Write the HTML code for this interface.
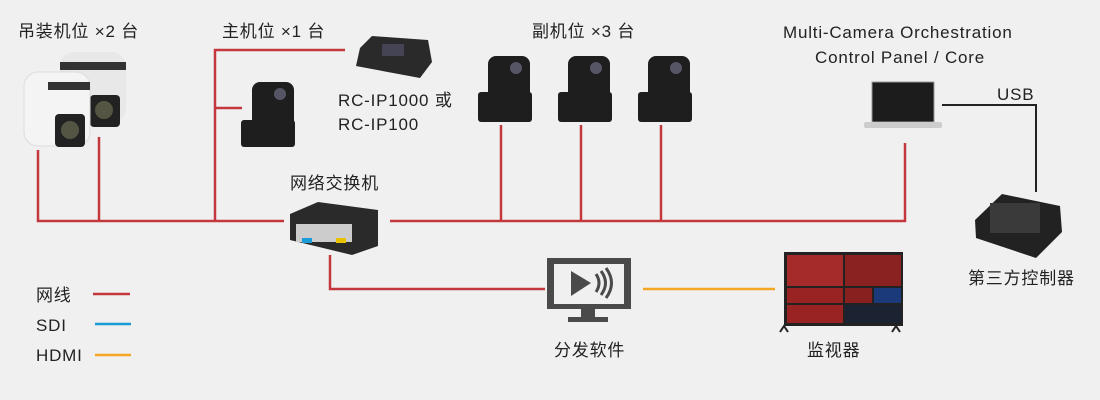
<!DOCTYPE html>
<html><head><meta charset="utf-8"><style>
body{margin:0;width:1100px;height:400px;background:#f0f0f0;font-family:"Liberation Sans","Noto Sans CJK SC",sans-serif;color:#222;position:relative;overflow:hidden}
.t{position:absolute;font-size:17px;letter-spacing:0.8px;white-space:nowrap;line-height:1}
</style></head><body>
<svg width="1100" height="400" style="position:absolute;left:0;top:0">
<g stroke="#c4373c" stroke-width="2.5" fill="none">
<path d="M38 150V221H284M99 137V221M215 221V50H345M215 108H242M390 221H905V143M501 125V221M581 125V221M661 125V221M330 255V289H545"/>
<path d="M93 294H130"/>
</g>
<path d="M95 324H131" stroke="#1a9ad6" stroke-width="2.5"/>
<path d="M95 355H131" stroke="#f5a623" stroke-width="2.5"/>
<path d="M643 289H775" stroke="#f5a623" stroke-width="2.5"/>
<path d="M942 105H1036V192" stroke="#222" stroke-width="2" fill="none"/>
<g>
<rect x="60" y="52" width="66" height="70" rx="14" fill="#e8e8e8"/>
<rect x="60" y="62" width="66" height="8" fill="#333"/>
<rect x="90" y="95" width="30" height="32" rx="4" fill="#222"/>
<rect x="24" y="72" width="66" height="74" rx="14" fill="#f4f4f4" stroke="#ddd"/>
<rect x="48" y="82" width="42" height="8" fill="#333"/>
<rect x="55" y="114" width="30" height="33" rx="4" fill="#222"/>
<circle cx="70" cy="130" r="9" fill="#554"/>
<circle cx="104" cy="110" r="9" fill="#554"/>
</g>
<g fill="#1e1e1e">
<rect x="252" y="82" width="42" height="50" rx="8"/><rect x="241" y="120" width="54" height="27" rx="3"/>
<rect x="488" y="56" width="42" height="50" rx="8"/><rect x="478" y="92" width="54" height="30" rx="3"/>
<rect x="568" y="56" width="42" height="50" rx="8"/><rect x="558" y="92" width="54" height="30" rx="3"/>
<rect x="648" y="56" width="42" height="50" rx="8"/><rect x="638" y="92" width="54" height="30" rx="3"/>
</g>
<g fill="#556"><circle cx="280" cy="94" r="6"/><circle cx="516" cy="68" r="6"/><circle cx="596" cy="68" r="6"/><circle cx="676" cy="68" r="6"/></g>
<polygon points="360,48 372,36 428,40 432,62 420,78 356,66" fill="#2a2a2a"/>
<rect x="382" y="44" width="22" height="12" fill="#445"/>
<polygon points="290,214 318,202 378,210 378,246 352,255 290,240" fill="#2a2a2a"/>
<rect x="296" y="224" width="56" height="18" fill="#ccc"/>
<rect x="302" y="238" width="10" height="5" fill="#1a9ad6"/><rect x="336" y="238" width="10" height="5" fill="#e6c200"/>
<rect x="872" y="82" width="62" height="40" fill="#1c1c1c" stroke="#999"/>
<rect x="864" y="122" width="78" height="6" rx="2" fill="#ccc"/>
<polygon points="975,220 1002,194 1060,206 1062,232 1036,258 976,238" fill="#222"/>
<rect x="990" y="203" width="50" height="30" fill="#3a3a3a"/>
<rect x="547" y="258" width="84" height="51" fill="#4a4a4a"/>
<rect x="554" y="264" width="70" height="40" fill="#f0f0f0"/>
<polygon points="571,271 571,296 591,283" fill="#4a4a4a"/>
<path d="M596 274q6 9 0 18M601 271q9 12 0 24M606 268q11 15 0 30" stroke="#4a4a4a" stroke-width="3" fill="none"/>
<rect x="581" y="309" width="14" height="8" fill="#4a4a4a"/><rect x="568" y="317" width="40" height="5" fill="#4a4a4a"/>
<rect x="784" y="252" width="119" height="74" fill="#222"/>
<rect x="787" y="255" width="56" height="31" fill="#a52a2a"/><rect x="845" y="255" width="56" height="31" fill="#8a2222"/>
<rect x="787" y="288" width="56" height="15" fill="#992222"/><rect x="845" y="288" width="27" height="15" fill="#882020"/><rect x="874" y="288" width="27" height="15" fill="#1a3a7a"/>
<rect x="787" y="305" width="56" height="18" fill="#992222"/><rect x="845" y="305" width="56" height="18" fill="#1b2333"/>
<path d="M780 332l4-6 4 6M892 332l4-6 4 6" stroke="#222" stroke-width="2" fill="none"/>
</svg>
<div class="t" style="left:18px;top:23px">吊装机位 ×2 台</div>
<div class="t" style="left:222px;top:23px">主机位 ×1 台</div>
<div class="t" style="left:338px;top:92px">RC-IP1000 或</div>
<div class="t" style="left:338px;top:116px">RC-IP100</div>
<div class="t" style="left:290px;top:175px">网络交换机</div>
<div class="t" style="left:532px;top:23px">副机位 ×3 台</div>
<div class="t" style="left:783px;top:24px">Multi-Camera Orchestration</div>
<div class="t" style="left:815px;top:49px">Control Panel / Core</div>
<div class="t" style="left:997px;top:86px">USB</div>
<div class="t" style="left:968px;top:270px">第三方控制器</div>
<div class="t" style="left:554px;top:342px">分发软件</div>
<div class="t" style="left:807px;top:342px">监视器</div>
<div class="t" style="left:36px;top:287px">网线</div>
<div class="t" style="left:36px;top:317px">SDI</div>
<div class="t" style="left:36px;top:347px">HDMI</div>
</body></html>
